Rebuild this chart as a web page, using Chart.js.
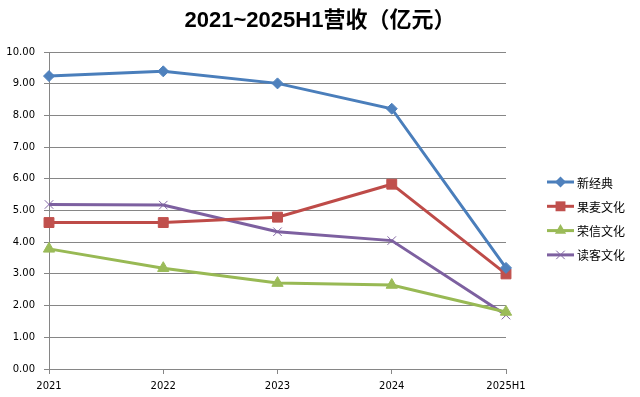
<!DOCTYPE html>
<html>
<head>
<meta charset="utf-8">
<script src="https://cdn.jsdelivr.net/npm/chart.js@4/dist/chart.umd.min.js"></script>
<style>
html,body{margin:0;padding:0;background:#fff;}
#wrap{width:640px;height:397px;position:relative;}
</style>
</head>
<body>
<div id="wrap"><canvas id="c" width="640" height="397"></canvas></div>
<script>
const categories = ['2021', '2022', '2023', '2024', '2025H1'];
const seriesNames = ['新经典', '果麦文化', '荣信文化', '读客文化'];
const xinjingdian = [9.24, 9.39, 9.01, 8.21, 3.19];
const guomai = [4.62, 4.62, 4.79, 5.83, 3.00];
const rongxin = [3.79, 3.18, 2.71, 2.65, 1.80];
const duke = [5.19, 5.17, 4.33, 4.05, 1.70];
const yTicks = [0, 1, 2, 3, 4, 5, 6, 7, 8, 9, 10];
const titleText = '2021~2025H1营收（亿元）';

const styles = [
  {line: '#4A7EBB', fill: '#4F81BD', shape: 'rectRot', r: 5.5, bw: 1},
  {line: '#BE4B48', fill: '#C0504D', shape: 'rect', r: 7, bw: 1},
  {line: '#98B954', fill: '#9BBB59', shape: 'triangle', r: 6.5, bw: 1},
  {line: '#7D60A0', fill: '#8064A2', shape: 'crossRot', r: 6, bw: 1}
];
const values = [xinjingdian, guomai, rongxin, duke];

const datasets = values.map((v, i) => ({
  label: seriesNames[i],
  data: v,
  yAxisID: 'y',
  borderColor: styles[i].line,
  backgroundColor: styles[i].fill,
  borderWidth: 3,
  pointStyle: styles[i].shape,
  pointRadius: styles[i].r,
  pointHoverRadius: styles[i].r,
  pointBackgroundColor: styles[i].fill,
  pointBorderColor: styles[i].fill,
  pointBorderWidth: styles[i].bw,
  tension: 0
}));

function drawMarker(ctx, shape, x, y, r, fill) {
  ctx.save();
  ctx.fillStyle = fill; ctx.strokeStyle = fill; ctx.lineWidth = 1;
  ctx.beginPath();
  if (shape === 'rectRot') {
    ctx.moveTo(x, y - r); ctx.lineTo(x + r, y); ctx.lineTo(x, y + r); ctx.lineTo(x - r, y); ctx.closePath(); ctx.fill();
  } else if (shape === 'rect') {
    const s = r * Math.SQRT1_2; ctx.rect(x - s, y - s, 2 * s, 2 * s); ctx.fill();
  } else if (shape === 'triangle') {
    ctx.moveTo(x, y - r); ctx.lineTo(x + r * 0.866, y + r * 0.5); ctx.lineTo(x - r * 0.866, y + r * 0.5); ctx.closePath(); ctx.fill();
  } else {
    const d = r * Math.SQRT1_2;
    ctx.moveTo(x - d, y - d); ctx.lineTo(x + d, y + d); ctx.moveTo(x + d, y - d); ctx.lineTo(x - d, y + d); ctx.stroke();
  }
  ctx.restore();
}

const customLegend = {
  id: 'customLegend',
  afterDraw(chart) {
    const ctx = chart.ctx;
    const x0 = 547, lineW = 27, textX = 577;
    const yStart = 182, step = 24.3;
    ctx.save();
    ctx.font = '12px "Noto Sans CJK SC", sans-serif';
    ctx.textBaseline = 'middle';
    ctx.textAlign = 'left';
    seriesNames.forEach((n, i) => {
      const y = yStart + i * step;
      ctx.strokeStyle = styles[i].line; ctx.lineWidth = 3;
      ctx.beginPath(); ctx.moveTo(x0, y); ctx.lineTo(x0 + lineW, y); ctx.stroke();
      drawMarker(ctx, styles[i].shape, x0 + lineW / 2, y, styles[i].r, styles[i].fill);
      ctx.fillStyle = '#000';
      ctx.fillText(n, textX, y + 1);
    });
    ctx.restore();
  }
};

const gridColor = '#868686';
new Chart(document.getElementById('c'), {
  type: 'line',
  data: {labels: categories, datasets: datasets},
  options: {
    responsive: false,
    animation: false,
    layout: {padding: {left: 0, right: 0, top: 0, bottom: 0}},
    plugins: {
      legend: {display: false},
      tooltip: {enabled: false},
      title: {
        display: true,
        text: titleText,
        color: '#000',
        font: {family: '"Liberation Sans", "Noto Sans CJK SC", sans-serif', size: 22, weight: 'bold', lineHeight: 1.2},
        padding: {top: 8, bottom: 17.6}
      }
    },
    scales: {
      x: {
        offset: false,
        grid: {display: true, drawOnChartArea: false, drawTicks: true, tickLength: 5, color: gridColor, lineWidth: 1},
        border: {display: true, color: gridColor, width: 1},
        ticks: {color: '#000', font: {family: '"DejaVu Sans", sans-serif', size: 10}, padding: 6, maxRotation: 0, autoSkip: false},
        afterFit(s) { s.height = 28; }
      },
      y: {
        min: 0, max: 10,
        afterBuildTicks(s) { s.ticks = yTicks.map(v => ({value: v})); },
        grid: {display: true, drawOnChartArea: true, drawTicks: true, tickLength: 5, color: gridColor, lineWidth: 1},
        border: {display: true, color: gridColor, width: 1},
        ticks: {color: '#000', font: {family: '"DejaVu Sans", sans-serif', size: 10}, padding: 9, callback: v => Number(v).toFixed(2)},
        afterFit(s) { s.width = 49; }
      },
      legendSpace: {
        position: 'right',
        type: 'linear',
        display: true,
        grid: {display: false, drawOnChartArea: false, drawTicks: false},
        border: {display: false},
        ticks: {display: false},
        afterFit(s) { s.width = 134; }
      }
    }
  },
  plugins: [customLegend]
});
</script>
</body>
</html>
